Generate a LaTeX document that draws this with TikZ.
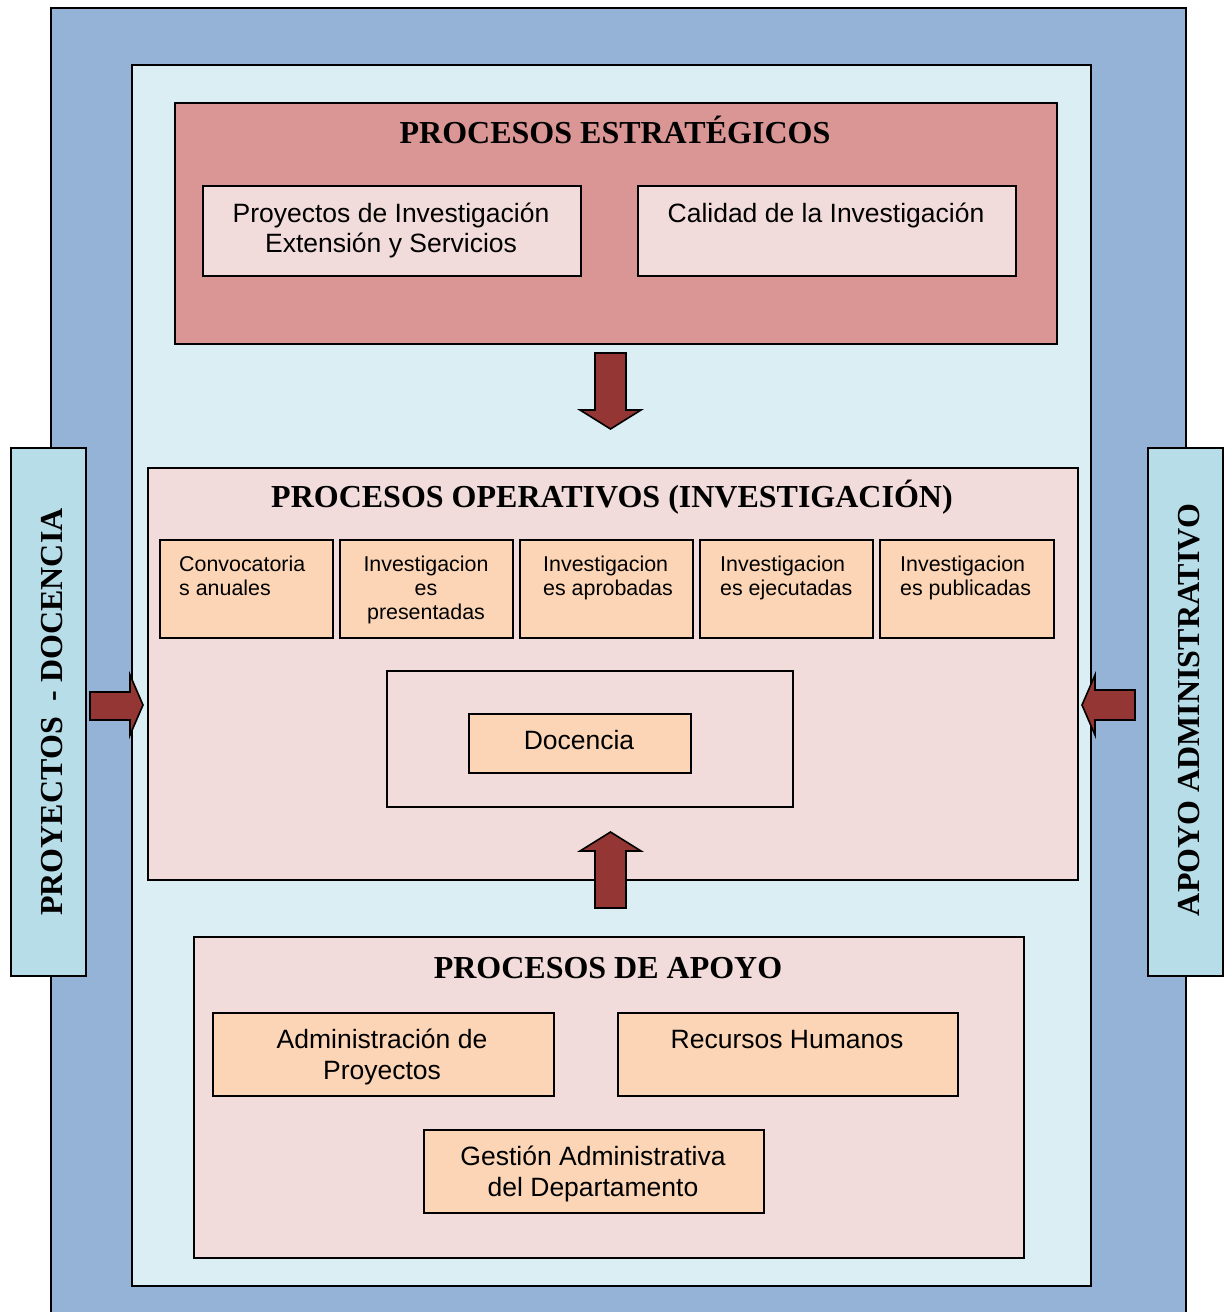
\documentclass[tikz,border=0pt]{standalone}
\usepackage{fontspec}
\setmainfont{Liberation Serif}
\newfontfamily\arialf{Liberation Sans}

\definecolor{outerblue}{HTML}{95B3D7}
\definecolor{paleblue}{HTML}{DBEEF3}
\definecolor{rose}{HTML}{D99694}
\definecolor{blush}{HTML}{F2DCDB}
\definecolor{peach}{HTML}{FBD5B5}
\definecolor{sideblue}{HTML}{B7DDE8}
\definecolor{arrowred}{HTML}{943634}

% multi-line text whose baseline is the first line
\newcommand\cstack[1]{\begin{tabular}[t]{@{}c@{}}#1\end{tabular}}
\newcommand\lstack[1]{\begin{tabular}[t]{@{}l@{}}#1\end{tabular}}

\tikzset{
  panel/.style={draw=black, line width=2pt, rectangle, anchor=north west, inner sep=0pt},
  title/.style={anchor=base, inner sep=0pt, font=\fontsize{32}{38}\selectfont\bfseries},
  bodytext/.style={anchor=base, inner sep=0pt, font=\arialf\fontsize{26.5}{30}\selectfont},
  apoyotext/.style={anchor=base, inner sep=0pt, font=\arialf\fontsize{26.5}{31}\selectfont},
  smalltext/.style={anchor=base, inner sep=0pt, font=\arialf\fontsize{21.4}{24}\selectfont},
  smallleft/.style={smalltext, anchor=base west},
  sidetext/.style={anchor=base, inner sep=0pt, rotate=90, font=\fontsize{32}{38}\selectfont\bfseries},
  blockarrow/.style={draw=black, line width=1.6pt, fill=arrowred, line join=miter},
}

\begin{document}
\begin{tikzpicture}[x=1pt, y=-1pt]
\useasboundingbox (0,0) rectangle (1227,1312);
\clip (0,0) rectangle (1227,1312);

% background frames
\node[panel, fill=outerblue, minimum width=1135, minimum height=1330] (outer) at (50,7) {};
\node[panel, fill=paleblue, minimum width=959, minimum height=1221] (inner) at (131,64) {};

% side bands
\node[panel, fill=sideblue, minimum width=75, minimum height=528] (left) at (10,447) {};
\node[panel, fill=sideblue, minimum width=75, minimum height=528] (right) at (1147,447) {};
\node[sidetext] (lefttxt) at (62,712) {PROYECTOS\ \ - DOCENCIA};
\node[sidetext] (righttxt) at (1199,710) {APOYO ADMINISTRATIVO};

% strategic processes
\node[panel, fill=rose, minimum width=882, minimum height=241] (estr) at (174,102) {};
\node[title] (estrt) at (615,143) {PROCESOS ESTRATÉGICOS};
\node[panel, fill=blush, minimum width=378, minimum height=90] (s1) at (202,185) {};
\node[panel, fill=blush, minimum width=378, minimum height=90] (s2) at (637,185) {};
\node[bodytext] (s1t) at (391,222) {\cstack{Proyectos de Investigación\\Extensión y Servicios}};
\node[bodytext] (s2t) at (826,222) {Calidad de la Investigación};

% operative processes
\node[panel, fill=blush, minimum width=930, minimum height=412] (oper) at (147,467) {};
\node[title] (opert) at (612,507) {PROCESOS OPERATIVOS (INVESTIGACIÓN)};
\node[panel, fill=peach, minimum width=173, minimum height=98] (o1) at (159,539) {};
\node[panel, fill=peach, minimum width=173, minimum height=98] (o2) at (339,539) {};
\node[panel, fill=peach, minimum width=173, minimum height=98] (o3) at (519,539) {};
\node[panel, fill=peach, minimum width=173, minimum height=98] (o4) at (699,539) {};
\node[panel, fill=peach, minimum width=174, minimum height=98] (o5) at (879,539) {};
\node[smallleft] (o1t) at (179,571) {\lstack{Convocatoria\\s anuales}};
\node[smalltext] (o2t) at (426,571) {\cstack{Investigacion\\es\\presentadas}};
\node[smallleft] (o3t) at (543,571) {\lstack{Investigacion\\es aprobadas}};
\node[smallleft] (o4t) at (720,571) {\lstack{Investigacion\\es ejecutadas}};
\node[smallleft] (o5t) at (900,571) {\lstack{Investigacion\\es publicadas}};
\node[panel, fill=blush, minimum width=406, minimum height=136] (frame) at (386,670) {};
\node[panel, fill=peach, minimum width=222, minimum height=59] (doc) at (468,713) {};
\node[bodytext] (doct) at (579,749) {Docencia};

% support processes
\node[panel, fill=blush, minimum width=830, minimum height=321] (apoyo) at (193,936) {};
\node[title] (apoyot) at (608,978) {PROCESOS DE APOYO};
\node[panel, fill=peach, minimum width=341, minimum height=83] (a1) at (212,1012) {};
\node[panel, fill=peach, minimum width=340, minimum height=83] (a2) at (617,1012) {};
\node[panel, fill=peach, minimum width=340, minimum height=83] (a3) at (423,1129) {};
\node[apoyotext] (a1t) at (382,1048) {\cstack{Administración de\\Proyectos}};
\node[apoyotext] (a2t) at (787,1048) {Recursos Humanos};
\node[apoyotext] (a3t) at (593,1165) {\cstack{Gestión Administrativa\\del Departamento}};

% block arrows
\draw[blockarrow] (595,353) -- (626,353) -- (626,410) -- (641,410) -- (610.5,429)
  -- (580,410) -- (595,410) -- cycle;
\draw[blockarrow] (595,908) -- (626,908) -- (626,851) -- (641,851) -- (610.5,832)
  -- (580,851) -- (595,851) -- cycle;
\draw[blockarrow] (90,692) -- (130,692) -- (130,675) -- (143,705) -- (130,735)
  -- (130,720) -- (90,720) -- cycle;
\draw[blockarrow] (1135,690) -- (1095,690) -- (1095,675) -- (1082,705) -- (1095,735)
  -- (1095,720) -- (1135,720) -- cycle;
\end{tikzpicture}
\end{document}
